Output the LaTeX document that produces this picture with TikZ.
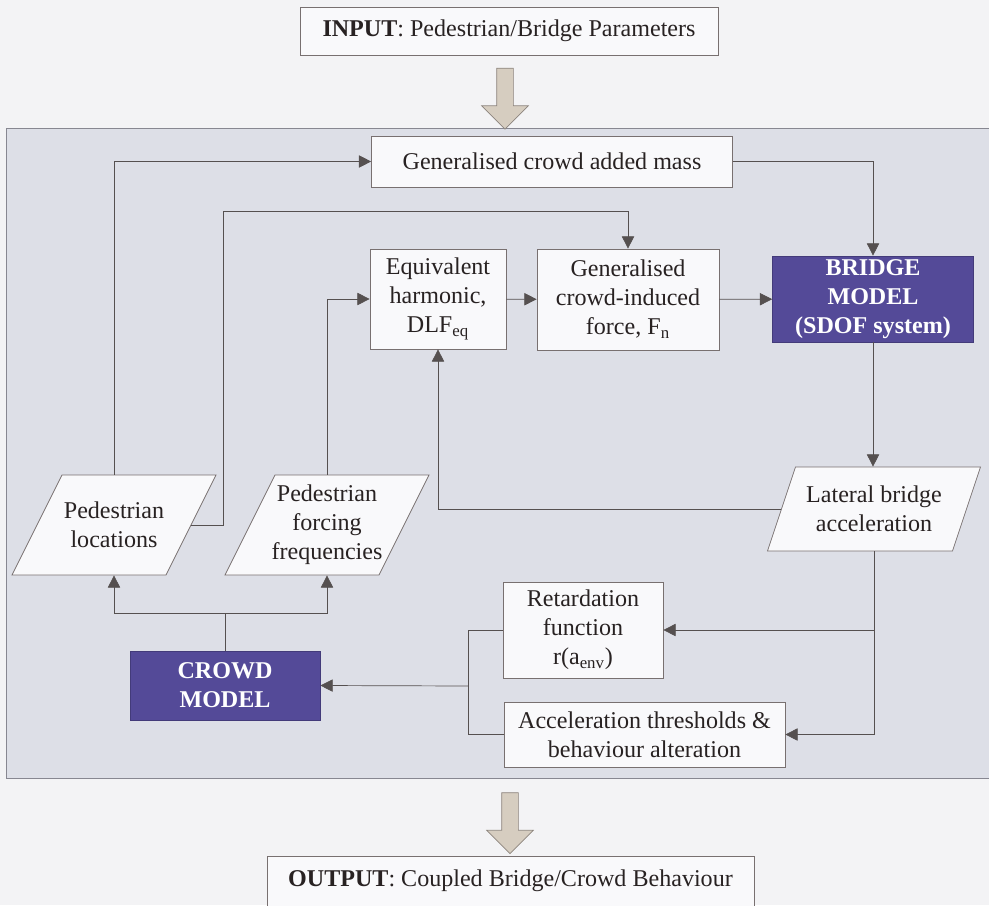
\documentclass[tikz,border=0pt]{standalone}
\usepackage{fontspec}
\setmainfont{Liberation Serif}
\usetikzlibrary{arrows.meta,shapes.arrows}

\definecolor{pagebg}{RGB}{243,243,245}
\definecolor{panelfill}{RGB}{221,223,231}
\definecolor{panelline}{RGB}{135,135,145}
\definecolor{boxfill}{RGB}{249,249,251}
\definecolor{boxline}{RGB}{120,112,112}
\definecolor{ink}{RGB}{40,34,34}
\definecolor{linegrey}{RGB}{85,80,80}
\definecolor{modelfill}{RGB}{84,74,152}
\definecolor{arrowfill}{RGB}{214,205,192}
\definecolor{arrowline}{RGB}{140,132,125}

\begin{document}
\begin{tikzpicture}[x=0.02cm, y=-0.02cm,
  box/.style={draw=boxline, fill=boxfill, text=ink, align=center, inner sep=1pt,
    font=\fontsize{13.7}{16.5}\selectfont},
  model/.style={box, draw=modelfill!80!black, fill=modelfill, text=white,
    font=\fontsize{13.7}{16.5}\selectfont\bfseries},
  data/.style={box, draw=none, fill=none},
  databox/.style={draw=boxline, fill=boxfill},
  flow/.style={draw=linegrey, -{Triangle[length=7pt,width=7pt]}},
  bigarrow/.style={single arrow, draw=arrowline, fill=arrowfill, rotate=-90,
    minimum width=0.92cm, minimum height=1.22cm, inner sep=0.16cm,
    single arrow head extend=0.3cm}]

\useasboundingbox (0,0) rectangle (989,905);
\clip (0,0) rectangle (989,905);
\fill[pagebg] (0,0) rectangle (989,905);

% grey panel holding the coupled model
\draw[panelline, fill=panelfill] (6,128) rectangle (1000,778);

% input / output
\node[box, minimum width=8.36cm, minimum height=0.96cm] (input) at (509,31) {\textbf{INPUT}: Pedestrian/Bridge Parameters};
\node[bigarrow] (inarrow) at (505,94.5) {};
\node[bigarrow] (outarrow) at (510,819) {};
\node[box, minimum width=9.74cm, minimum height=1.0cm] (output) at (510.5,881) {\textbf{OUTPUT}: Coupled Bridge/Crowd Behaviour};

% slanted data boxes, text nodes go on top
\draw[databox] (114,525) ++(-102,50) -- ++(154,0) -- ++(50,-100) -- ++(-154,0) -- cycle;
\draw[databox] (327,525) ++(-102,50) -- ++(154,0) -- ++(50,-100) -- ++(-154,0) -- cycle;
\draw[databox] (874,509) ++(-106.5,42) -- ++(185,0) -- ++(28,-84) -- ++(-185,0) -- cycle;

% bridge side
\node[box, minimum width=7.22cm, minimum height=1.02cm] (mass) at (552,161.5) {Generalised crowd added mass};
\node[box, minimum width=2.72cm, minimum height=2cm] (equiv) at (438,299) {Equivalent\\harmonic,\\DLF\textsubscript{eq}};
\node[box, minimum width=3.64cm, minimum height=2.02cm] (force) at (628,299.5) {Generalised\\crowd-induced\\force, F\textsubscript{n}};
\node[model, minimum width=4.02cm, minimum height=1.72cm] (bridge) at (873,299) {BRIDGE\\MODEL\\(SDOF system)};
\node[data, minimum width=3.7cm, minimum height=1.68cm] (lateral) at (874,509) {Lateral bridge\\acceleration};

% crowd side
\node[data, minimum width=3.08cm, minimum height=2cm] (pedloc) at (114,525) {Pedestrian\\locations};
\node[data, minimum width=3.08cm, minimum height=2cm] (pedfreq) at (327,525) {Pedestrian\\forcing\\frequencies};
\node[box, minimum width=3.2cm, minimum height=1.92cm] (retard) at (583,630) {Retardation\\function\\r(a\textsubscript{env})};
\node[box, minimum width=5.62cm, minimum height=1.3cm] (thresh) at (644.5,734.5) {Acceleration thresholds \&\\behaviour alteration};
\node[model, minimum width=3.8cm, minimum height=1.38cm] (crowd) at (225,685.5) {CROWD\\MODEL};

% connectors
\coordinate (bend) at (223,211);
\coordinate (join) at (468,686);
\draw[flow] (pedloc.north) |- (mass.west);
\draw[flow] (pedloc.east) -| (bend) -| (force.north);
\draw[flow] (pedfreq.north) |- (equiv.west);
\draw[flow] (lateral.west) -| (equiv.south);
\draw[flow] (equiv) -- (force);
\draw[flow] (force) -- (bridge);
\draw[flow] (mass.east) -| (bridge.north);
\draw[flow] (bridge.south) -- (bridge.south |- lateral.north);
\draw[flow] (lateral.south) |- (thresh.east);
\draw[flow] (lateral.south |- retard.east) -- (retard.east);
\draw[linegrey] (retard.west) -| (join);
\draw[linegrey] (thresh.west) -| (join);
\draw[flow] (join) -- (crowd.east);
\draw[linegrey] (crowd.north) -- ++(0,-37) coordinate (split);
\draw[flow] (split) -| (pedloc.south);
\draw[flow] (split) -| (pedfreq.south);
\end{tikzpicture}
\end{document}
